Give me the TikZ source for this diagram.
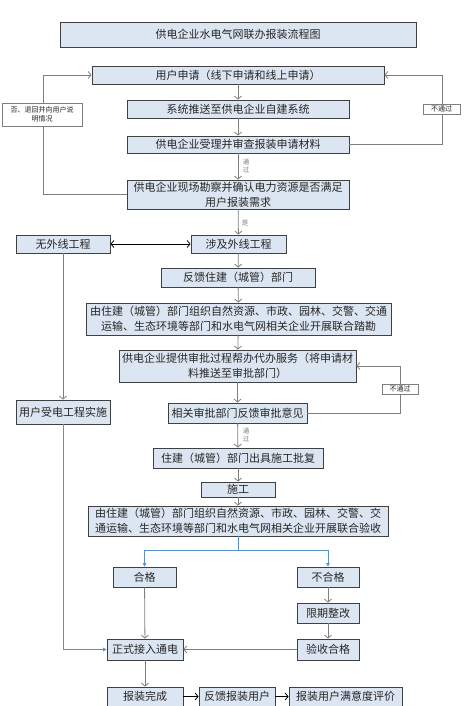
\documentclass[tikz,border=0pt]{standalone}
\usepackage{fontspec}
\setmainfont{Noto Sans CJK SC}
\usetikzlibrary{arrows.meta}
\definecolor{boxfill}{HTML}{DCE6F2}
\definecolor{boxline}{HTML}{404040}
\definecolor{conn}{HTML}{7F7F7F}
\definecolor{bluel}{HTML}{5B8FD0}
\definecolor{txt}{HTML}{262626}
\tikzset{
  box/.style={draw=boxline, line width=0.8pt, fill=boxfill, inner sep=0pt, align=center,
    font=\fontsize{11}{15}\selectfont, text=txt},
  lab/.style={draw=conn, line width=0.5pt, fill=white, inner sep=0pt, align=center,
    font=\fontsize{7}{9.5}\selectfont, text=txt},
  elab/.style={inner sep=0pt, align=center, font=\fontsize{6.5}{7.5}\selectfont, text=conn},
  con/.style={draw=conn, line width=0.8pt, -{Straight Barb[length=3pt,width=7pt]}},
  conb/.style={draw=black, line width=0.8pt, -{Straight Barb[length=3pt,width=7pt]}},
  conblue/.style={draw=bluel, line width=0.8pt, -{Triangle[length=3.5pt,width=3.5pt]}},
}
\begin{document}
\begin{tikzpicture}[x=1pt,y=-1pt]
\useasboundingbox (0,0) rectangle (472,706);
% boxes
\node[box, minimum width=356pt, minimum height=25pt] (title) at (238,34.5) {供电企业水电气网联办报装流程图};
\node[box, minimum width=292pt, minimum height=18pt] (apply) at (238,75) {用户申请（线下申请和线上申请）};
\node[box, minimum width=222pt, minimum height=18pt] (push) at (238,109) {系统推送至供电企业自建系统};
\node[box, minimum width=222pt, minimum height=17pt] (acc) at (238,144.5) {供电企业受理并审查报装申请材料};
\node[box, minimum width=222pt, minimum height=29pt] (survey) at (238,194.5) {供电企业现场勘察并确认电力资源是否满足\\用户报装需求};
\node[box, minimum width=94pt, minimum height=18pt] (noext) at (63,244) {无外线工程};
\node[box, minimum width=95pt, minimum height=18pt] (ext) at (238.5,244) {涉及外线工程};
\node[box, minimum width=154pt, minimum height=19pt] (fb) at (238,277.5) {反馈住建（城管）部门};
\node[box, minimum width=305pt, minimum height=32pt] (joint) at (238.5,319) {由住建（城管）部门组织自然资源、市政、园林、交警、交通\\运输、生态环境等部门和水电气网相关企业开展联合踏勘};
\node[box, minimum width=237pt, minimum height=32pt] (agent) at (237.5,366) {供电企业提供审批过程帮办代办服务（将申请材\\料推送至审批部门）};
\node[box, minimum width=139pt, minimum height=20pt] (opin) at (237.5,413) {相关审批部门反馈审批意见};
\node[box, minimum width=94pt, minimum height=24pt] (uwork) at (63,412) {用户受电工程实施};
\node[box, minimum width=170pt, minimum height=20pt] (appr) at (238,458) {住建（城管）部门出具施工批复};
\node[box, minimum width=74pt, minimum height=15pt] (build) at (238,489.5) {施工};
\node[box, minimum width=300pt, minimum height=30pt] (acc2) at (238,521) {由住建（城管）部门组织自然资源、市政、园林、交警、交\\通运输、生态环境等部门和水电气网相关企业开展联合验收};
\node[box, minimum width=63pt, minimum height=20pt] (ok) at (144.5,577) {合格};
\node[box, minimum width=62pt, minimum height=20pt] (nok) at (328,577) {不合格};
\node[box, minimum width=62pt, minimum height=20pt] (fix) at (328,613) {限期整改};
\node[box, minimum width=62pt, minimum height=21pt] (pass) at (328,649.5) {验收合格};
\node[box, minimum width=76pt, minimum height=21pt] (conn) at (145,649.5) {正式接入通电};
\node[box, minimum width=76pt, minimum height=19pt] (done) at (145,696.5) {报装完成};
\node[box, minimum width=76pt, minimum height=19pt] (fbu) at (237,696.5) {反馈报装用户};
\node[box, minimum width=113pt, minimum height=19pt] (sat) at (345.5,696.5) {报装用户满意度评价};
% helper coordinates
\coordinate (l1) at (43,194.5);
\coordinate (l2) at (43,75);
\coordinate (r1) at (442,144.5);
\coordinate (r2) at (442,75);
\coordinate (o1) at (400,413);
\coordinate (o2) at (400,366);
\coordinate (b0) at (238,550);
\coordinate (bl) at (144.5,550);
\coordinate (br) at (328,550);
\coordinate (u1) at (63,649.5);
% connectors
\draw[con] (apply) -- (push);
\draw[con] (push) -- (acc);
\draw[con] (acc) -- (survey);
\draw[con] (survey) -- (ext);
\draw[con] (survey.west) -- (l1) -- (l2) -- (apply.west);
\draw[con] (acc.east) -- (r1) -- (r2) -- (apply.east);
\draw[draw=black, line width=0.8pt, {Straight Barb[length=3pt,width=7pt]}-{Straight Barb[length=3pt,width=7pt]}] (noext) -- (ext);
\draw[con] (noext) -- (uwork);
\draw[con] (ext) -- (fb);
\draw[con] (fb) -- (joint);
\draw[con] (joint) -- (agent);
\draw[con] (agent) -- (opin);
\draw[con] (opin.east) -- (o1) -- (o2) -- (agent.east);
\draw[con] (opin) -- (appr);
\draw[con] (appr) -- (build);
\draw[con] (build) -- (acc2);
\draw[draw=bluel, line width=0.8pt] (acc2.south) -- (b0);
\draw[draw=bluel, line width=0.8pt] (bl) -- (br);
\draw[conblue] (bl) -- (ok);
\draw[conblue] (br) -- (nok);
\draw[conblue] (uwork.south) -- (u1) -- (conn.west);
\draw[con] (ok) -- (conn);
\draw[con] (nok) -- (fix);
\draw[con] (fix) -- (pass);
\draw[con] (pass) -- (conn);
\draw[con] (conn) -- (done);
\draw[conb] (done) -- (fbu);
\draw[conb] (fbu) -- (sat);
% labels
\node[lab, minimum width=80pt, minimum height=23pt] (nolab) at (42,114.5) {否、退回并向用户说\\明情况};
\node[lab, minimum width=37pt, minimum height=10pt] (np1) at (441.5,109) {不通过};
\node[lab, minimum width=36pt, minimum height=10pt] (np2) at (400,389) {不通过};
\node[elab] (t1) at (246,166) {通\\过};
\node[elab] (t2) at (245,223) {是};
\node[elab] (t3) at (246,435) {通\\过};
\end{tikzpicture}
\end{document}
